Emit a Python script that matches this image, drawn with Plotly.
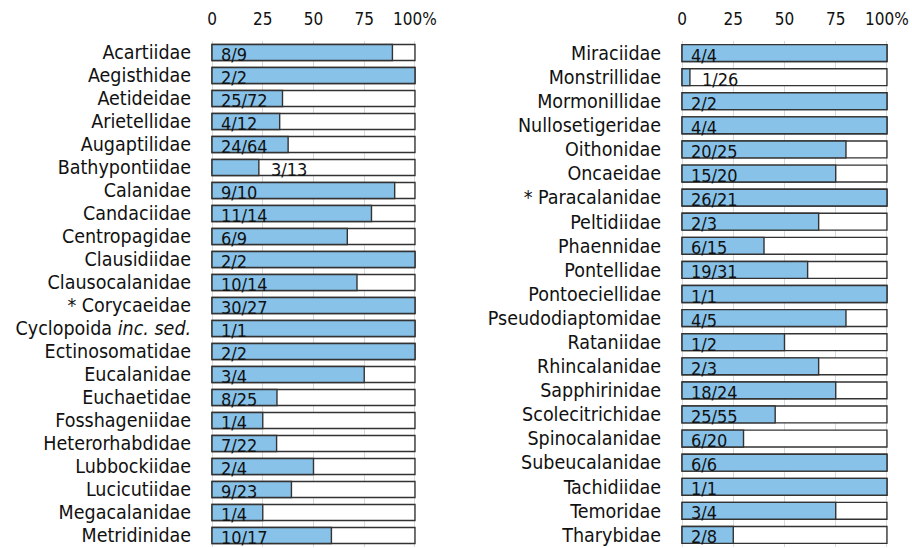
import plotly.graph_objects as go

left_families = ["Acartiidae", "Aegisthidae", "Aetideidae", "Arietellidae", "Augaptilidae",
                 "Bathypontiidae", "Calanidae", "Candaciidae", "Centropagidae", "Clausidiidae",
                 "Clausocalanidae", "* Corycaeidae", "Cyclopoida <i>inc. sed.</i>", "Ectinosomatidae",
                 "Eucalanidae", "Euchaetidae", "Fosshageniidae", "Heterorhabdidae", "Lubbockiidae",
                 "Lucicutiidae", "Megacalanidae", "Metridinidae"]
left_num = [8, 2, 25, 4, 24, 3, 9, 11, 6, 2, 10, 30, 1, 2, 3, 8, 1, 7, 2, 9, 1, 10]
left_den = [9, 2, 72, 12, 64, 13, 10, 14, 9, 2, 14, 27, 1, 2, 4, 25, 4, 22, 4, 23, 4, 17]

right_families = ["Miraciidae", "Monstrillidae", "Mormonillidae", "Nullosetigeridae", "Oithonidae",
                  "Oncaeidae", "* Paracalanidae", "Peltidiidae", "Phaennidae", "Pontellidae",
                  "Pontoeciellidae", "Pseudodiaptomidae", "Rataniidae", "Rhincalanidae",
                  "Sapphirinidae", "Scolecitrichidae", "Spinocalanidae", "Subeucalanidae",
                  "Tachidiidae", "Temoridae", "Tharybidae"]
right_num = [4, 1, 2, 4, 20, 15, 26, 2, 6, 19, 1, 4, 1, 2, 18, 25, 6, 6, 1, 3, 2]
right_den = [4, 26, 2, 4, 25, 20, 21, 3, 15, 31, 1, 5, 2, 3, 24, 55, 20, 6, 1, 4, 8]

tick_vals = [0, 25, 50, 75, 100]
tick_text = ["0", "25", "50", "75", "100%"]

FONT = "DejaVu Sans Condensed, DejaVu Sans"
BLUE = "#88C2E8"
EDGE = "#333333"

fig = go.Figure()
annotations = []

panels = [
    (left_families, left_num, left_den, "x", "y"),
    (right_families, right_num, right_den, "x2", "y2"),
]

for fams, num, den, xa, ya in panels:
    idx = list(range(len(fams)))
    pct = [min(n / d, 1.0) * 100 for n, d in zip(num, den)]
    fig.add_trace(go.Bar(
        x=[100] * len(fams), y=idx, orientation="h", width=0.7,
        marker=dict(color="white", line=dict(color=EDGE, width=1.4)),
        xaxis=xa, yaxis=ya, hoverinfo="skip", showlegend=False))
    fig.add_trace(go.Bar(
        x=pct, y=idx, orientation="h", width=0.7,
        marker=dict(color=BLUE, line=dict(color=EDGE, width=1.4)),
        xaxis=xa, yaxis=ya, showlegend=False))
    for i, (n, d, p) in enumerate(zip(num, den, pct)):
        inside = p >= 24
        annotations.append(dict(
            x=0 if inside else p, y=i, xref=xa, yref=ya,
            text=f"{n}/{d}", showarrow=False, xanchor="left", yanchor="middle",
            xshift=7 if inside else 10, yshift=-2,
            font=dict(family=FONT, size=18, color="#111111")))

common_x = dict(range=[-1, 101], side="top", tickvals=tick_vals, ticktext=tick_text,
                showgrid=True, gridcolor="#d9d9d9", gridwidth=1, zeroline=False,
                showline=False, automargin=False,
                ticks="outside", ticklen=8, tickcolor="rgba(0,0,0,0)",
                tickfont=dict(family=FONT, size=17, color="#111111"), fixedrange=True)

common_y = dict(showgrid=False, zeroline=False, showline=False, automargin=False,
                ticks="outside", ticklen=14, tickcolor="rgba(0,0,0,0)",
                tickfont=dict(family=FONT, size=19.5, color="#111111"))

fig.update_layout(
    template="none",
    width=912, height=548,
    margin=dict(l=0, r=0, t=41, b=1, pad=0),
    paper_bgcolor="white", plot_bgcolor="white",
    barmode="overlay",
    annotations=annotations,
    xaxis=dict(domain=[210 / 912, 417 / 912], anchor="y", **common_x),
    xaxis2=dict(domain=[680 / 912, 889 / 912], anchor="y2", **common_x),
    yaxis=dict(range=[len(left_families) - 0.5, -0.5], tickvals=list(range(len(left_families))),
               ticktext=left_families, anchor="x", **common_y),
    yaxis2=dict(range=[len(right_families) - 0.5, -0.5], tickvals=list(range(len(right_families))),
                ticktext=right_families, anchor="x2", **common_y),
)

fig.write_html("out.html", config={"displayModeBar": False},
               post_script="document.body.style.margin='0';document.body.style.overflow='hidden';")
